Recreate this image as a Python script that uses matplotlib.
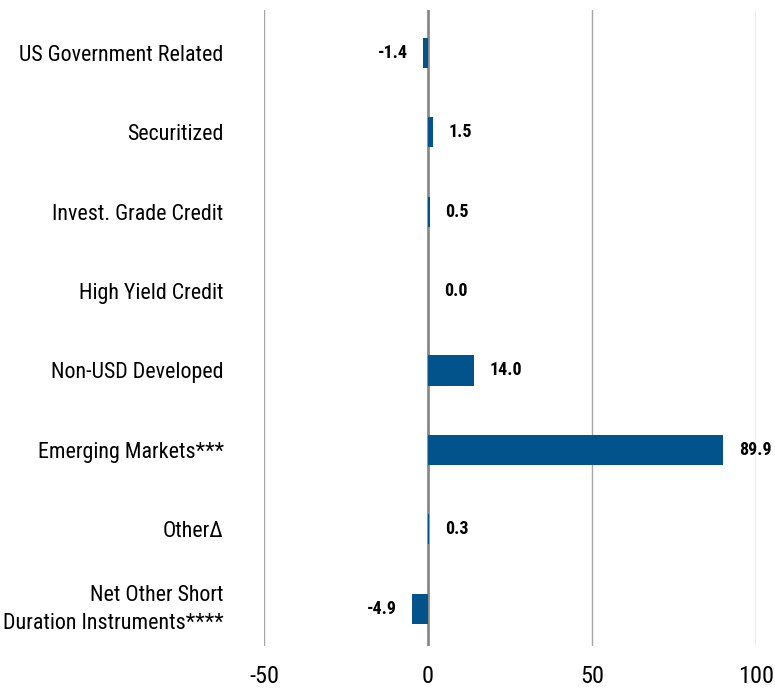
import matplotlib
matplotlib.use("Agg")
import matplotlib.pyplot as plt
from matplotlib.transforms import ScaledTranslation

categories = ["US Government Related", "Securitized", "Invest. Grade Credit",
              "High Yield Credit", "Non-USD Developed", "Emerging Markets***",
              "Other\u0394", "Net Other Short\nDuration Instruments****"]
values = [-1.4, 1.5, 0.5, 0.0, 14.0, 89.9, 0.3, -4.9]
labels = ["-1.4", "1.5", "0.5", "0.0", "14.0", "89.9", "0.3", "-4.9"]
xticks = [-50, 0, 50, 100]
xticklabels = ["-50", "0", "50", "100"]

fam = ["Roboto Condensed", "Liberation Sans", "DejaVu Sans"]
plt.rcParams["font.family"] = fam

fig = plt.figure(figsize=(7.75, 6.90), dpi=100)
ax = fig.add_axes([264/775, 1-646/690, (756-264)/775, (646-10)/690])

ypos = list(range(len(categories)))
ax.barh(ypos, values, height=0.38, color="#02538B", zorder=3)

ax.set_xlim(-50, 100)
ax.set_ylim(7.47, -0.54)
for x in xticks:
    if x == 0:
        ax.axvline(x, color="#8a8a8a", lw=2.0, zorder=2)
    else:
        ax.axvline(x, color="#a6a6a6", lw=1.0, zorder=1)

for y, v, t in zip(ypos, values, labels):
    if v < 0:
        ax.annotate(t, (v, y), xytext=(-11, 0), textcoords="offset points",
                    ha="right", va="center", fontsize=13, fontweight="bold")
    else:
        ax.annotate(t, (v, y), xytext=(11.5, 0), textcoords="offset points",
                    ha="left", va="center", fontsize=13, fontweight="bold")

ax.set_yticks(ypos)
ax.set_yticklabels(categories, fontsize=15.8, ha="right", multialignment="right",
                   linespacing=1.45)
ax.tick_params(axis="y", length=0, pad=29)
ax.set_xticks(xticks)
ax.set_xticklabels(xticklabels, fontsize=17.5)
ax.tick_params(axis="x", length=0, pad=14)
for s in ax.spines.values():
    s.set_visible(False)

last = ax.get_yticklabels()[-1]
last.set_transform(last.get_transform() + ScaledTranslation(0, 5/100, fig.dpi_scale_trans))

fig.savefig("out.png", dpi=100)
